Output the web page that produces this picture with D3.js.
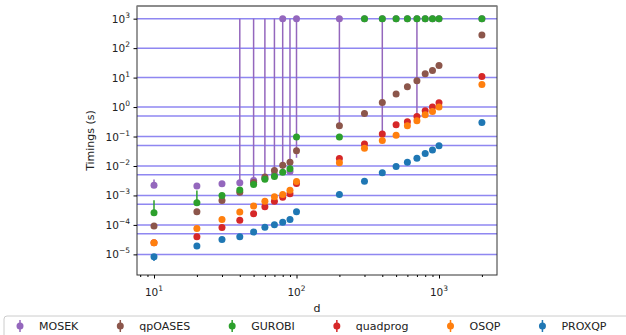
<!DOCTYPE html>
<html>
<head>
<meta charset="utf-8">
<script src="https://cdn.jsdelivr.net/npm/d3@7"></script>
<style>
  body { margin: 0; background: #fff; }
  text { font-family: "DejaVu Sans", sans-serif; fill: #222; }
</style>
</head>
<body>
<svg id="chart" width="626" height="335"></svg>
<script>
// problem sizes
const dims = [10, 20, 30, 40, 50, 60, 70, 80, 90, 100, 200, 300, 400, 500, 600, 700, 800, 900, 1000, 2000];

// timings (s)
const mosek    = [2.2e-3, 2.1e-3, 2.5e-3, 2.7e-3, 3.2e-3, 3.8e-3, 5.0e-3, 1000, 6.5e-3, 1000, 1000, 1000, 1000, 1000, 1000, 1000, 1000, 1000, 1000, 1000];
const mosekLo  = [2.2e-3, 2.1e-3, 2.5e-3, 2.7e-3, 3.2e-3, 3.8e-3, 5.0e-3, 6.0e-3, 6.5e-3, 1.9e-2, 0.23, 1000, 0.12, 1000, 1000, 0.5, 1000, 1000, 1000, 1000];
const mosekHi  = [3.5e-3, 2.1e-3, 2.5e-3, 1000, 1000, 1000, 1000, 1000, 1000, 1000, 1000, 1000, 1000, 1000, 1000, 1000, 1000, 1000, 1000, 1000];
const qpoases  = [9.1e-5, 2.8e-4, 6.8e-4, 1.29e-3, 2.75e-3, 4.2e-3, 7.0e-3, 1.06e-2, 1.34e-2, 3.3e-2, 0.234, 0.61, 1.43, 2.76, 4.9, 7.8, 13.5, 17.4, 25.7, 281];
const gurobi   = [2.6e-4, 5.7e-4, 1.0e-3, 1.53e-3, 2.36e-3, 3.56e-3, 4.4e-3, 6.1e-3, 8.0e-3, 0.097, 0.097, 1000, 1000, 1000, 1000, 1000, 1000, 1000, 1000, 1000];
const gurobiHi = [6.9e-4, 1.48e-3, 1.0e-3, 1.53e-3, 2.36e-3, 3.56e-3, 4.4e-3, 6.1e-3, 8.0e-3, 0.097, 0.097, 1000, 1000, 1000, 1000, 1000, 1000, 1000, 1000, 1000];
const quadprog = [2.5e-5, 4.0e-5, 8.1e-5, 1.45e-4, 2.4e-4, 4.15e-4, 6.3e-4, 8.75e-4, 1.14e-3, 2.55e-3, 1.79e-2, 5.6e-2, 0.122, 0.253, 0.32, 0.48, 0.75, 1.0, 1.4, 10.9];
const osqp     = [2.5e-5, 7.6e-5, 1.54e-4, 2.72e-4, 4.35e-4, 6.4e-4, 9.0e-4, 1.08e-3, 1.51e-3, 2.98e-3, 1.28e-2, 4.0e-2, 7.4e-2, 0.11, 0.234, 0.345, 0.55, 0.71, 1.0, 5.85];
const proxqp   = [8.3e-6, 1.92e-5, 3.17e-5, 3.95e-5, 5.7e-5, 8.3e-5, 1.02e-4, 1.22e-4, 1.54e-4, 2.8e-4, 1.08e-3, 3.05e-3, 5.86e-3, 9.6e-3, 1.34e-2, 1.83e-2, 2.64e-2, 3.5e-2, 4.9e-2, 0.30];
const proxqpLo = [6.0e-6, 1.92e-5, 3.17e-5, 3.95e-5, 5.7e-5, 8.3e-5, 1.02e-4, 1.22e-4, 1.54e-4, 2.8e-4, 1.08e-3, 3.05e-3, 5.86e-3, 9.6e-3, 1.34e-2, 1.83e-2, 2.64e-2, 3.5e-2, 4.9e-2, 0.30];

const hlines = [1e3, 1e2, 1e1, 1, 0.5, 0.1, 0.05, 0.01, 5e-3, 1e-3, 5e-4, 1e-4, 5e-5, 1e-5];
const xMajor = [10, 100, 1000];
const xMinor = [8, 9, 20, 30, 40, 50, 60, 70, 80, 90, 200, 300, 400, 500, 600, 700, 800, 900, 2000];
const yMajor = [1e-5, 1e-4, 1e-3, 1e-2, 1e-1, 1, 1e1, 1e2, 1e3];

const series = [
  {name: 'MOSEK',    color: '#9467bd', v: mosek,    lo: mosekLo,  hi: mosekHi},
  {name: 'qpOASES',  color: '#8c564b', v: qpoases,  lo: qpoases,  hi: qpoases},
  {name: 'GUROBI',   color: '#2ca02c', v: gurobi,   lo: gurobi,   hi: gurobiHi},
  {name: 'quadprog', color: '#d62728', v: quadprog, lo: quadprog, hi: quadprog},
  {name: 'OSQP',     color: '#ff7f0e', v: osqp,     lo: osqp,     hi: osqp},
  {name: 'PROXQP',   color: '#1f77b4', v: proxqp,   lo: proxqpLo, hi: proxqp}
];

const L = 137, R = 497, T = 6, B = 275;
const svg = d3.select('#chart');

const x = d3.scaleLog().domain([Math.pow(10, 0.8807), Math.pow(10, 3.407)]).range([L, R]);
const y = d3.scaleLog().domain([Math.pow(10, -5.70), Math.pow(10, 3.43)]).range([B, T]);

const sup = {'-': '\u2212'};
function powLabel(sel, v) {
  const e = Math.round(Math.log10(v));
  sel.text(null);
  sel.append('tspan').text('10');
  sel.append('tspan').attr('dy', -5).attr('font-size', 7.5)
    .text(String(e).split('').map(c => sup[c] || c).join(''));
}

// reference lines
svg.append('g').selectAll('line').data(hlines).join('line')
  .attr('x1', L).attr('x2', R)
  .attr('y1', d => y(d)).attr('y2', d => y(d))
  .attr('stroke', '#7b72ee').attr('stroke-opacity', 0.85).attr('stroke-width', 1.5);

// series: error bars then markers
series.forEach(s => {
  const pts = dims.map((d, i) => ({d: d, v: s.v[i], lo: s.lo[i], hi: s.hi[i]}));
  const g = svg.append('g');
  g.selectAll('line').data(pts.filter(p => p.lo !== p.hi)).join('line')
    .attr('x1', p => x(p.d)).attr('x2', p => x(p.d))
    .attr('y1', p => y(p.lo)).attr('y2', p => y(p.hi))
    .attr('stroke', s.color).attr('stroke-width', 1.5);
  g.selectAll('circle').data(pts).join('circle')
    .attr('cx', p => x(p.d)).attr('cy', p => y(p.v)).attr('r', 3.5)
    .attr('fill', s.color);
});

// frame
svg.append('rect').attr('x', L).attr('y', T).attr('width', R - L).attr('height', B - T)
  .attr('fill', 'none').attr('stroke', '#333').attr('stroke-width', 1);
svg.append('line').attr('x1', L).attr('x2', R).attr('y1', T).attr('y2', T)
  .attr('stroke', '#888').attr('stroke-width', 1.5);

// x axis
const gx = svg.append('g').attr('transform', `translate(0,${B})`)
  .call(d3.axisBottom(x).tickValues(xMajor).tickSize(3.5).tickFormat(''));
gx.select('.domain').remove();
svg.append('g').attr('transform', `translate(0,${B})`)
  .call(d3.axisBottom(x).tickValues(xMinor).tickSize(2).tickFormat(''))
  .select('.domain').remove();
svg.append('g').selectAll('text').data(xMajor).join('text')
  .attr('x', d => x(d)).attr('y', 296).attr('text-anchor', 'middle')
  .attr('font-size', 10.5).each(function(d) { powLabel(d3.select(this), d); });

// y axis
const gy = svg.append('g').attr('transform', `translate(${L},0)`)
  .call(d3.axisLeft(y).tickValues(yMajor).tickSize(3.5).tickFormat(''));
gy.select('.domain').remove();
svg.append('g').selectAll('text').data(yMajor).join('text')
  .attr('x', 130).attr('y', d => y(d) + 4).attr('text-anchor', 'end')
  .attr('font-size', 10.5).each(function(d) { powLabel(d3.select(this), d); });

// axis titles
svg.append('text').attr('x', (L + R) / 2).attr('y', 312).attr('text-anchor', 'middle')
  .attr('font-size', 11).text('d');
svg.append('text').attr('transform', `translate(94,${(T + B) / 2}) rotate(-90)`)
  .attr('text-anchor', 'middle').attr('font-size', 11).text('Timings (s)');

// legend
const lg = svg.append('g');
lg.append('rect').attr('x', 4).attr('y', 316).attr('width', 640).attr('height', 30)
  .attr('rx', 3).attr('fill', '#fff').attr('stroke', '#ccc').attr('stroke-width', 1);
let lx = 20;
series.forEach(s => {
  lg.append('line').attr('x1', lx).attr('x2', lx).attr('y1', 320).attr('y2', 332)
    .attr('stroke', s.color).attr('stroke-width', 1.5);
  lg.append('circle').attr('cx', lx).attr('cy', 326).attr('r', 3.5).attr('fill', s.color);
  const t = lg.append('text').attr('x', lx + 19).attr('y', 330).attr('font-size', 11).text(s.name);
  lx += 19 + t.node().getComputedTextLength() + 42;
});
</script>
</body>
</html>
